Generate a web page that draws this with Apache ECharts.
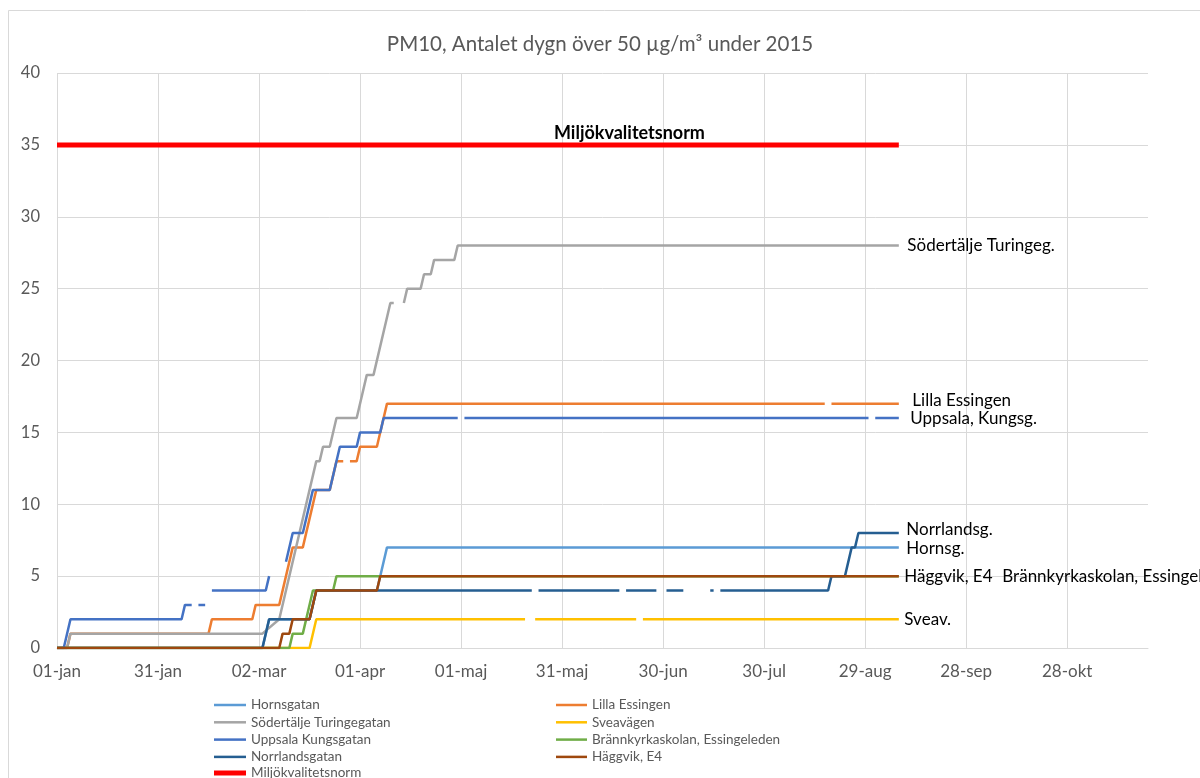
<!DOCTYPE html>
<html>
<head>
<meta charset="utf-8">
<script src="https://cdn.jsdelivr.net/npm/echarts@6/dist/echarts.min.js"></script>
<style>
  html, body { margin: 0; padding: 0; background: #ffffff; }
  #chart { width: 1200px; height: 778px; }
</style>
</head>
<body>
<div id="chart"></div>
<script>
// Day index: 0 = 1 January 2015. Each pair is [day, cumulative number of days above 50 µg/m³].
// A null value marks a missing day and breaks the line.
const hornsgatan = [[0,0],[61,0],[63,2],[75,2],[77,4],[95,4],[98,7],[250,7]];
const lillaEssingen = [[0,0],[3,0],[4,1],[45,1],[46,2],[58,2],[59,3],[66,3],[70,7],[73,7],[77,11],[81,11],[83,13],[85,13],[86,null],[87,13],[89,13],[90,14],[95,14],[98,17],[228,17],[229,null],[230,17],[250,17]];
const sodertalje = [[0,0],[3,0],[4,1],[61,1],[66,2],[77,13],[78,13],[79,14],[81,14],[83,16],[89,16],[92,19],[94,19],[99,24],[100,24],[101,null],[103,24],[104,25],[108,25],[109,26],[111,26],[112,27],[118,27],[119,28],[250,28]];
const sveavagen = [[0,0],[75,0],[77,2],[139,2],[140,null],[142,2],[172,2],[173,null],[174,2],[250,2]];
const uppsala = [[0,0],[2,0],[4,2],[37,2],[38,3],[40,3],[41,null],[42,3],[44,3],[45,null],[46,4],[62,4],[63,5],[64,null],[68,6],[70,8],[73,8],[76,11],[81,11],[84,14],[89,14],[90,15],[96,15],[97,16],[119,16],[120,null],[121,16],[241,16],[242,null],[243,16],[250,16]];
const brannkyrka = [[0,0],[69,0],[70,1],[73,1],[76,4],[82,4],[83,5],[250,5]];
const norrlandsgatan = [[0,0],[61,0],[63,2],[75,2],[77,4],[141,4],[142,null],[143,4],[167,4],[168,null],[169,4],[178,4],[179,null],[181,4],[186,4],[187,null],[194,4],[195,4],[196,null],[197,4],[229,4],[230,5],[234,5],[236,7],[237,7],[238,8],[250,8]];
const haggvik = [[0,0],[66,0],[67,1],[69,1],[70,2],[75,2],[77,4],[95,4],[96,5],[250,5]];
const norm = [[0,35],[250,35]];
const normLabelDay = 170;

const monthNames = ['jan','feb','mar','apr','maj','jun','jul','aug','sep','okt','nov','dec'];
const yTicks = [0, 5, 10, 15, 20, 25, 30, 35, 40];

const FONT = 'Lato, "Liberation Sans", sans-serif';
const GREY_TEXT = '#595959';
const GRID_LINE = '#d9d9d9';

function dayLabel(day) {
  const d = new Date(Date.UTC(2015, 0, 1) + day * 86400000);
  const dd = String(d.getUTCDate()).padStart(2, '0');
  return dd + '-' + monthNames[d.getUTCMonth()];
}

function lastPoint(data) {
  for (let i = data.length - 1; i >= 0; i--) {
    if (data[i][1] !== null) return data[i];
  }
  return null;
}

function station(name, data, color, endText, offset) {
  return {
    name: name,
    type: 'line',
    data: data,
    showSymbol: false,
    symbol: 'none',
    connectNulls: false,
    silent: true,
    lineStyle: { color: color, width: 2.5 },
    itemStyle: { color: color },
    markPoint: {
      symbol: 'circle',
      symbolSize: 1,
      silent: true,
      itemStyle: { color: 'rgba(0,0,0,0)' },
      label: {
        show: true,
        position: 'right',
        distance: 0,
        offset: offset,
        formatter: endText,
        color: '#000000',
        fontSize: 17,
        fontFamily: FONT
      },
      data: [{ coord: lastPoint(data) }]
    }
  };
}

const series = [
  station('Hornsgatan', hornsgatan, '#5B9BD5', 'Hornsg.', [7, 1]),
  station('Lilla Essingen', lillaEssingen, '#ED7D31', 'Lilla Essingen', [13, -3]),
  station('Södertälje Turingegatan', sodertalje, '#A5A5A5', 'Södertälje Turingeg.', [8, 0]),
  station('Sveavägen', sveavagen, '#FFC000', 'Sveav.', [5, 0]),
  station('Uppsala Kungsgatan', uppsala, '#4472C4', 'Uppsala, Kungsg.', [11, 1]),
  station('Brännkyrkaskolan, Essingeleden', brannkyrka, '#70AD47', 'Brännkyrkaskolan, Essingeleden', [103, 0]),
  station('Norrlandsgatan', norrlandsgatan, '#255E91', 'Norrlandsg.', [7, -3]),
  station('Häggvik, E4', haggvik, '#9E480E', 'Häggvik, E4', [5, 0]),
  {
    name: 'Miljökvalitetsnorm',
    type: 'line',
    data: norm,
    showSymbol: false,
    symbol: 'none',
    silent: true,
    lineStyle: { color: '#FF0000', width: 5 },
    itemStyle: { color: '#FF0000' },
    markPoint: {
      symbol: 'circle',
      symbolSize: 1,
      silent: true,
      itemStyle: { color: 'rgba(0,0,0,0)' },
      label: {
        show: true,
        position: 'top',
        distance: 2,
        formatter: 'Miljökvalitetsnorm',
        color: '#000000',
        fontSize: 18,
        fontWeight: 'bold',
        fontFamily: FONT
      },
      data: [{ coord: [normLabelDay, norm[0][1]] }]
    }
  }
];

const legendText = { color: GREY_TEXT, fontSize: 13.5, fontFamily: FONT, lineHeight: 14 };

const option = {
  animation: false,
  backgroundColor: '#ffffff',
  title: {
    text: 'PM10, Antalet dygn över 50 µg/m³ under 2015',
    left: 'center',
    top: 29,
    textStyle: { color: GREY_TEXT, fontSize: 20.5, fontWeight: 'normal', fontFamily: FONT }
  },
  graphic: [{
    type: 'rect',
    silent: true,
    shape: { x: 8.5, y: 10.5, width: 1300, height: 900 },
    style: { fill: 'none', stroke: GRID_LINE, lineWidth: 1 }
  }],
  legend: [
    {
      data: ['Hornsgatan', 'Södertälje Turingegatan', 'Uppsala Kungsgatan', 'Norrlandsgatan'],
      orient: 'vertical', left: 214, top: 698, padding: 0, itemGap: 3.3,
      itemWidth: 32, itemHeight: 2.5, icon: 'rect',
      selectedMode: false, textStyle: legendText
    },
    {
      data: ['Lilla Essingen', 'Sveavägen', 'Brännkyrkaskolan, Essingeleden', 'Häggvik, E4'],
      orient: 'vertical', left: 556, top: 698, padding: 0, itemGap: 3.3,
      itemWidth: 31, itemHeight: 2.5, icon: 'rect',
      selectedMode: false, textStyle: legendText
    },
    {
      data: ['Miljökvalitetsnorm'],
      orient: 'vertical', left: 214, top: 766, padding: 0,
      itemWidth: 32, itemHeight: 5, icon: 'rect',
      selectedMode: false, textStyle: legendText
    }
  ],
  grid: { left: 57, right: 52, top: 73, bottom: 130, containLabel: false },
  xAxis: {
    type: 'value',
    min: 0,
    max: 324,
    interval: 30,
    axisLine: { show: true, lineStyle: { color: GRID_LINE, width: 1 } },
    axisTick: { show: false },
    splitLine: { show: true, showMaxLine: false, lineStyle: { color: GRID_LINE, width: 1 } },
    axisLabel: {
      color: GREY_TEXT, fontSize: 17, fontFamily: FONT, margin: 15,
      showMaxLabel: false,
      formatter: function (v) { return v % 30 === 0 ? dayLabel(v) : ''; }
    }
  },
  yAxis: {
    type: 'value',
    min: yTicks[0],
    max: yTicks[yTicks.length - 1],
    interval: yTicks[1] - yTicks[0],
    axisLine: { show: false },
    axisTick: { show: false },
    splitLine: { show: true, lineStyle: { color: GRID_LINE, width: 1 } },
    axisLabel: { color: GREY_TEXT, fontSize: 16.5, fontFamily: FONT, margin: 17 }
  },
  series: series
};

const chart = echarts.init(document.getElementById('chart'), null, { renderer: 'canvas' });
chart.setOption(option);
</script>
</body>
</html>
